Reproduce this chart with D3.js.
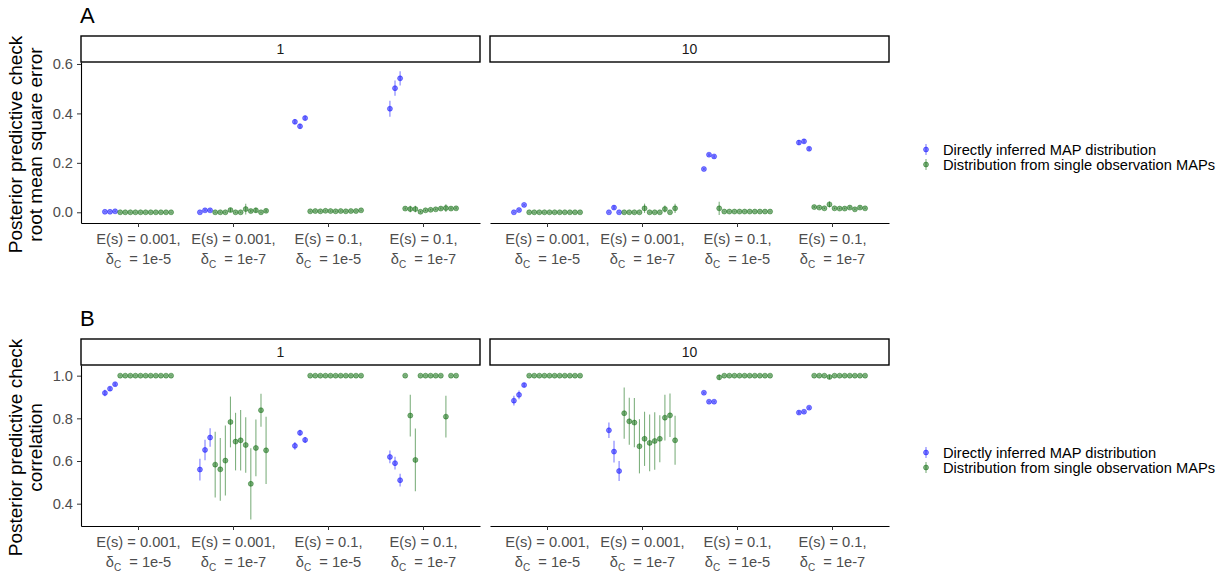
<!DOCTYPE html>
<html>
<head>
<meta charset="utf-8">
<script src="https://cdn.jsdelivr.net/npm/d3@7"></script>
<style>
  body { margin: 0; background: #fff; }
  svg { font-family: "Liberation Sans", Arial, sans-serif; }
</style>
</head>
<body>
<script>
const WIDTH = 1225;
const HEIGHT = 576;

// facets and conditions
const facetLabels = ["1", "10"];
const conditions = ["c1", "c2", "c3", "c4"];
const conditionLine1 = ["E(s) = 0.001,", "E(s) = 0.001,", "E(s) = 0.1,", "E(s) = 0.1,"];
const conditionDelta = ["1e-5", "1e-7", "1e-5", "1e-7"];
const seriesNames = ["Directly inferred MAP distribution", "Distribution from single observation MAPs"];
const seriesColors = ["#0000ff", "#006400"];

// values as [estimate, half width of interval], per condition
const rmseDirect1 = [
  [[0.002, 0.002], [0.002, 0.002], [0.004, 0.003]],
  [[0.000, 0.002], [0.008, 0.004], [0.008, 0.004]],
  [[0.366, 0.010], [0.348, 0.010], [0.381, 0.010]],
  [[0.419, 0.032], [0.502, 0.031], [0.542, 0.029]]
];
const rmseSingle1 = [
  [[0.000, 0.001], [0.000, 0.001], [0.000, 0.001], [0.000, 0.001], [0.000, 0.001], [0.000, 0.001],
   [0.000, 0.001], [0.000, 0.001], [0.000, 0.001], [0.000, 0.001], [0.000, 0.001]],
  [[0.000, 0.002], [0.000, 0.002], [0.000, 0.002], [0.009, 0.008], [0.000, 0.002], [0.000, 0.002],
   [0.013, 0.022], [0.005, 0.005], [0.008, 0.010], [0.000, 0.002], [0.006, 0.006]],
  [[0.004, 0.002], [0.005, 0.002], [0.004, 0.002], [0.006, 0.002], [0.005, 0.002], [0.004, 0.002],
   [0.005, 0.002], [0.004, 0.002], [0.005, 0.002], [0.005, 0.002], [0.008, 0.002]],
  [[0.015, 0.004], [0.013, 0.013], [0.013, 0.013], [0.002, 0.003], [0.008, 0.003], [0.010, 0.003],
   [0.012, 0.003], [0.015, 0.004], [0.017, 0.016], [0.015, 0.004], [0.016, 0.004]]
];
const rmseDirect10 = [
  [[0.000, 0.002], [0.009, 0.003], [0.030, 0.004]],
  [[0.000, 0.002], [0.019, 0.008], [0.000, 0.002]],
  [[0.175, 0.004], [0.233, 0.005], [0.226, 0.005]],
  [[0.282, 0.010], [0.287, 0.009], [0.257, 0.007]]
];
const rmseSingle10 = [
  [[0.000, 0.001], [0.000, 0.001], [0.000, 0.001], [0.000, 0.001], [0.000, 0.001], [0.000, 0.001],
   [0.000, 0.001], [0.000, 0.001], [0.000, 0.001], [0.000, 0.001], [0.000, 0.001]],
  [[0.000, 0.001], [0.000, 0.001], [0.000, 0.001], [0.000, 0.001], [0.016, 0.019], [0.000, 0.001],
   [0.000, 0.001], [0.000, 0.001], [0.013, 0.014], [0.000, 0.001], [0.016, 0.019]],
  [[0.016, 0.027], [0.003, 0.001], [0.003, 0.001], [0.003, 0.001], [0.003, 0.001], [0.003, 0.001],
   [0.003, 0.001], [0.003, 0.001], [0.003, 0.001], [0.003, 0.001], [0.003, 0.001]],
  [[0.021, 0.004], [0.019, 0.003], [0.016, 0.003], [0.032, 0.012], [0.016, 0.003], [0.015, 0.003],
   [0.015, 0.003], [0.019, 0.004], [0.012, 0.003], [0.019, 0.004], [0.016, 0.003]]
];

const corDirect1 = [
  [[0.919, 0.015], [0.939, 0.010], [0.960, 0.008]],
  [[0.560, 0.051], [0.652, 0.048], [0.710, 0.043]],
  [[0.671, 0.018], [0.732, 0.014], [0.699, 0.014]],
  [[0.619, 0.030], [0.590, 0.030], [0.510, 0.030]]
];
const corSingle1 = [
  [[1.000, 0.001], [1.000, 0.001], [1.000, 0.001], [1.000, 0.001], [1.000, 0.001], [1.000, 0.001],
   [1.000, 0.001], [1.000, 0.001], [1.000, 0.001], [1.000, 0.001], [1.000, 0.001]],
  [[0.583, 0.154], [0.561, 0.147], [0.602, 0.164], [0.783, 0.119], [0.691, 0.135], [0.697, 0.142],
   [0.675, 0.130], [0.493, 0.167], [0.661, 0.133], [0.838, 0.077], [0.650, 0.158]],
  [[1.000, 0.001], [1.000, 0.001], [1.000, 0.001], [1.000, 0.001], [1.000, 0.001], [1.000, 0.001],
   [1.000, 0.001], [1.000, 0.001], [1.000, 0.001], [1.000, 0.001], [1.000, 0.001]],
  [[1.000, 0.001], [0.813, 0.098], [0.605, 0.147], [1.000, 0.001], [1.000, 0.001], [1.000, 0.001],
   [1.000, 0.001], [1.000, 0.001], [0.808, 0.098], [1.000, 0.001], [1.000, 0.001]]
];
const corDirect10 = [
  [[0.883, 0.023], [0.910, 0.020], [0.956, 0.010]],
  [[0.744, 0.036], [0.644, 0.051], [0.553, 0.047]],
  [[0.920, 0.005], [0.878, 0.004], [0.878, 0.004]],
  [[0.827, 0.008], [0.831, 0.005], [0.850, 0.006]]
];
const corSingle10 = [
  [[1.000, 0.001], [1.000, 0.001], [1.000, 0.001], [1.000, 0.001], [1.000, 0.001], [1.000, 0.001],
   [1.000, 0.001], [1.000, 0.001], [1.000, 0.001], [1.000, 0.001], [1.000, 0.001]],
  [[0.824, 0.120], [0.786, 0.110], [0.780, 0.115], [0.669, 0.127], [0.704, 0.127], [0.685, 0.133],
   [0.694, 0.135], [0.704, 0.110], [0.803, 0.107], [0.814, 0.102], [0.697, 0.115]],
  [[0.992, 0.012], [1.000, 0.001], [1.000, 0.001], [1.000, 0.001], [1.000, 0.001], [1.000, 0.001],
   [1.000, 0.001], [1.000, 0.001], [1.000, 0.001], [1.000, 0.001], [1.000, 0.001]],
  [[1.000, 0.001], [1.000, 0.001], [1.000, 0.001], [0.994, 0.010], [1.000, 0.001], [1.000, 0.001],
   [1.000, 0.001], [1.000, 0.001], [1.000, 0.001], [1.000, 0.001], [1.000, 0.001]]
];

const rmseTicks = [0, 0.2, 0.4, 0.6];
const corTicks = [0.4, 0.6, 0.8, 1.0];

// layout
const FACET_X = [[81, 480], [490, 889]];
const STRIP_H = 26;
const N_SLOTS = 14;
const DODGE = 0.75;

const panels = [
  { tag: "A", title: ["Posterior predictive check", "root mean square error"],
    top: 62, bottom: 223, domain: [-0.0433, 0.608], ticks: rmseTicks,
    facets: [[rmseDirect1, rmseSingle1], [rmseDirect10, rmseSingle10]] },
  { tag: "B", title: ["Posterior predictive check", "correlation"],
    top: 365, bottom: 526, domain: [0.2954, 1.050], ticks: corTicks,
    facets: [[corDirect1, corSingle1], [corDirect10, corSingle10]] }
];

const svg = d3.select("body").append("svg")
  .attr("width", WIDTH).attr("height", HEIGHT);

panels.forEach(function(p) {
  const y = d3.scaleLinear().domain(p.domain).range([p.bottom, p.top]);
  const mid = (p.top + p.bottom) / 2;

  // tag
  svg.append("text")
    .attr("x", 80).attr("y", p.top - 39)
    .attr("font-size", 22).attr("fill", "#000")
    .text(p.tag);

  // y title, two lines
  p.title.forEach(function(t, i) {
    svg.append("text")
      .attr("transform", "translate(" + (22 + i * 20) + "," + (mid + 2) + ") rotate(-90)")
      .attr("text-anchor", "middle")
      .attr("font-size", 19).attr("fill", "#000")
      .text(t);
  });

  facetLabels.forEach(function(fl, fi) {
    const x0 = FACET_X[fi][0], x1 = FACET_X[fi][1];
    const x = d3.scalePoint().domain(conditions).range([x0, x1]).padding(0.6);
    const slot = x.step() * DODGE / N_SLOTS;
    const g = svg.append("g");

    // strip
    g.append("rect")
      .attr("x", x0).attr("y", p.top - STRIP_H)
      .attr("width", x1 - x0).attr("height", STRIP_H)
      .attr("fill", "#fff").attr("stroke", "#000").attr("stroke-width", 1.4);
    g.append("text")
      .attr("x", (x0 + x1) / 2).attr("y", p.top - STRIP_H / 2 + 5)
      .attr("text-anchor", "middle").attr("font-size", 14).attr("fill", "#1a1a1a")
      .text(fl);

    // flatten points: 3 direct slots then 11 single-observation slots
    const pts = [];
    conditions.forEach(function(c, ci) {
      let k = 0;
      p.facets[fi].forEach(function(ser, si) {
        ser[ci].forEach(function(v) {
          pts.push({ cond: c, slot: k, series: si, v: v[0], err: v[1] });
          k++;
        });
      });
    });
    const px = function(d) { return x(d.cond) + (d.slot - (N_SLOTS - 1) / 2) * slot; };

    g.append("g").selectAll("line").data(pts).join("line")
      .attr("x1", px).attr("x2", px)
      .attr("y1", function(d) { return y(d.v - d.err); })
      .attr("y2", function(d) { return y(d.v + d.err); })
      .attr("stroke", function(d) { return seriesColors[d.series]; })
      .attr("stroke-opacity", 0.5).attr("stroke-width", 1.1);

    g.append("g").selectAll("circle").data(pts).join("circle")
      .attr("cx", px).attr("cy", function(d) { return y(d.v); })
      .attr("r", 2.5)
      .attr("fill", function(d) { return seriesColors[d.series]; })
      .attr("fill-opacity", 0.5)
      .attr("stroke", function(d) { return seriesColors[d.series]; })
      .attr("stroke-opacity", 0.5).attr("stroke-width", 0.8);

    // x axis
    const xa = g.append("g")
      .attr("transform", "translate(0," + p.bottom + ")")
      .call(d3.axisBottom(x).tickSize(4).tickSizeOuter(0).tickFormat(""));
    xa.select(".domain").attr("stroke", "#000").attr("stroke-width", 1.1);
    xa.selectAll(".tick line").attr("stroke", "#333");
    xa.selectAll(".tick").each(function(c, ci) {
      const t = d3.select(this);
      t.append("text")
        .attr("y", 21).attr("text-anchor", "middle")
        .attr("font-size", 14.67).attr("fill", "#4d4d4d")
        .text(conditionLine1[ci]);
      const t2 = t.append("text")
        .attr("y", 40.5).attr("text-anchor", "middle")
        .attr("font-size", 14.67).attr("fill", "#4d4d4d");
      t2.append("tspan").text("\u03b4");
      t2.append("tspan").attr("font-size", 10).attr("dy", 4).text("C");
      t2.append("tspan").attr("dy", -4).text("\u00a0\u00a0= " + conditionDelta[ci]);
    });
    xa.attr("font-family", null);

    // y axis on the first facet only
    if (fi === 0) {
      const ya = g.append("g")
        .attr("transform", "translate(" + x0 + ",0)")
        .call(d3.axisLeft(y).tickValues(p.ticks).tickSize(4).tickSizeOuter(0).tickFormat(d3.format(".1f")));
      ya.select(".domain").attr("stroke", "#000").attr("stroke-width", 1.1);
      ya.selectAll(".tick line").attr("stroke", "#333");
      ya.selectAll(".tick text")
        .attr("font-size", 14.67).attr("fill", "#4d4d4d").attr("x", -8);
      ya.attr("font-family", null);
    }
  });

  // legend
  const lg = svg.append("g");
  seriesNames.forEach(function(name, si) {
    const ly = mid + 7 + si * 15;
    lg.append("line")
      .attr("x1", 926).attr("x2", 926).attr("y1", ly - 5.5).attr("y2", ly + 5.5)
      .attr("stroke", seriesColors[si]).attr("stroke-opacity", 0.5).attr("stroke-width", 1.1);
    lg.append("circle")
      .attr("cx", 926).attr("cy", ly).attr("r", 2.5)
      .attr("fill", seriesColors[si]).attr("fill-opacity", 0.5)
      .attr("stroke", seriesColors[si]).attr("stroke-opacity", 0.5).attr("stroke-width", 0.8);
    lg.append("text")
      .attr("x", 943).attr("y", ly + 5)
      .attr("font-size", 14.67).attr("fill", "#000")
      .text(name);
  });
});
</script>
</body>
</html>
